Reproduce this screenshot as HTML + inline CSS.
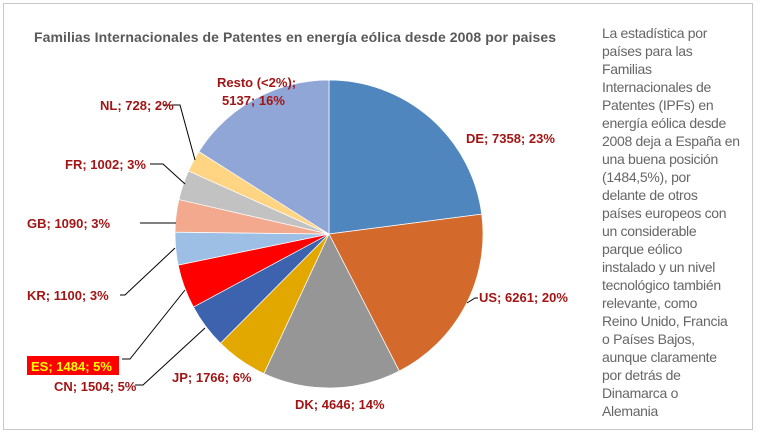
<!DOCTYPE html>
<html><head><meta charset="utf-8"><style>
body{margin:0;background:#fff;width:760px;height:437px;overflow:hidden;font-family:"Liberation Sans",sans-serif}
.frame{position:absolute;left:3px;top:3px;width:748px;height:425px;border:1px solid #c8c8c8}
.side{position:absolute;left:602px;top:24px;font-size:14px;line-height:18px;color:#666;white-space:nowrap;letter-spacing:-0.3px}
</style></head><body>
<div class="frame"></div>
<svg width="760" height="437" style="position:absolute;left:0;top:0" font-family="Liberation Sans, sans-serif">
<text x="34" y="42" font-size="14" font-weight="bold" fill="#595959" textLength="522">Familias Internacionales de Patentes en energía eólica desde 2008 por paises</text>
<g id="pie"></g>
<g stroke="#000" stroke-width="1" fill="none">
<polyline points="163,105 180,105 195,160"/>
<polyline points="150,164 163,164 185,184"/>
<polyline points="140,223 176,223"/>
<polyline points="120,295 125,295 175,248"/>
<polyline points="122,359 130,359 185,290"/>
<polyline points="135,385 143,385 205,328"/>
<polyline points="467,303 475,298 478,298"/>
</g>
<g font-size="13" font-weight="bold" fill="#a31515">
<text x="217" y="87">Resto (&lt;2%);</text>
<text x="222" y="105">5137; 16%</text>
<text x="100" y="110">NL; 728;  2%</text>
<text x="65" y="169">FR; 1002;  3%</text>
<text x="27" y="228">GB; 1090;  3%</text>
<text x="27" y="300">KR; 1100;  3%</text>
<text x="54" y="391">CN; 1504;  5%</text>
<text x="172" y="382">JP; 1766;  6%</text>
<text x="295" y="409">DK; 4646;  14%</text>
<text x="466" y="143">DE; 7358;  23%</text>
<text x="479" y="302">US; 6261;  20%</text>
</g>
<rect x="27" y="356" width="92" height="19" fill="#ff0000"/>
<text x="31" y="371" font-size="13" font-weight="bold" fill="#ffff00">ES; 1484;  5%</text>
</svg>
<div class="side">La estadística por<br>países para las<br>Familias<br>Internacionales de<br>Patentes (IPFs) en<br>energía eólica desde<br>2008 deja a España en<br>una buena posición<br>(1484,5%), por<br>delante de otros<br>países europeos con<br>un considerable<br>parque eólico<br>instalado y un nivel<br>tecnológico también<br>relevante, como<br>Reino Unido, Francia<br>o Países Bajos,<br>aunque claramente<br>por detrás de<br>Dinamarca o<br>Alemania</div>
<script>
var d=[[7358,"#4f86be"],[6261,"#d3692b"],[4646,"#969696"],[1766,"#e3a800"],[1504,"#3d63ae"],[1484,"#ff0000"],[1100,"#9dbfe6"],[1090,"#f2a98d"],[1002,"#c2c2c2"],[728,"#ffd482"],[5137,"#8fa6d6"]];
var t=0;d.forEach(function(e){t+=e[0]});
var cx=329,cy=234,r=154,a=0,s="";
d.forEach(function(e){var a2=a+e[0]/t*2*Math.PI;
var x1=cx+r*Math.sin(a),y1=cy-r*Math.cos(a),x2=cx+r*Math.sin(a2),y2=cy-r*Math.cos(a2);
s+='<path d="M'+cx+','+cy+'L'+x1+','+y1+'A'+r+','+r+' 0 '+((a2-a)>Math.PI?1:0)+' 1 '+x2+','+y2+'Z" fill="'+e[1]+'" stroke="#fff" stroke-width="0.7"/>';a=a2;});
document.getElementById("pie").innerHTML=s;
</script>
</body></html>
